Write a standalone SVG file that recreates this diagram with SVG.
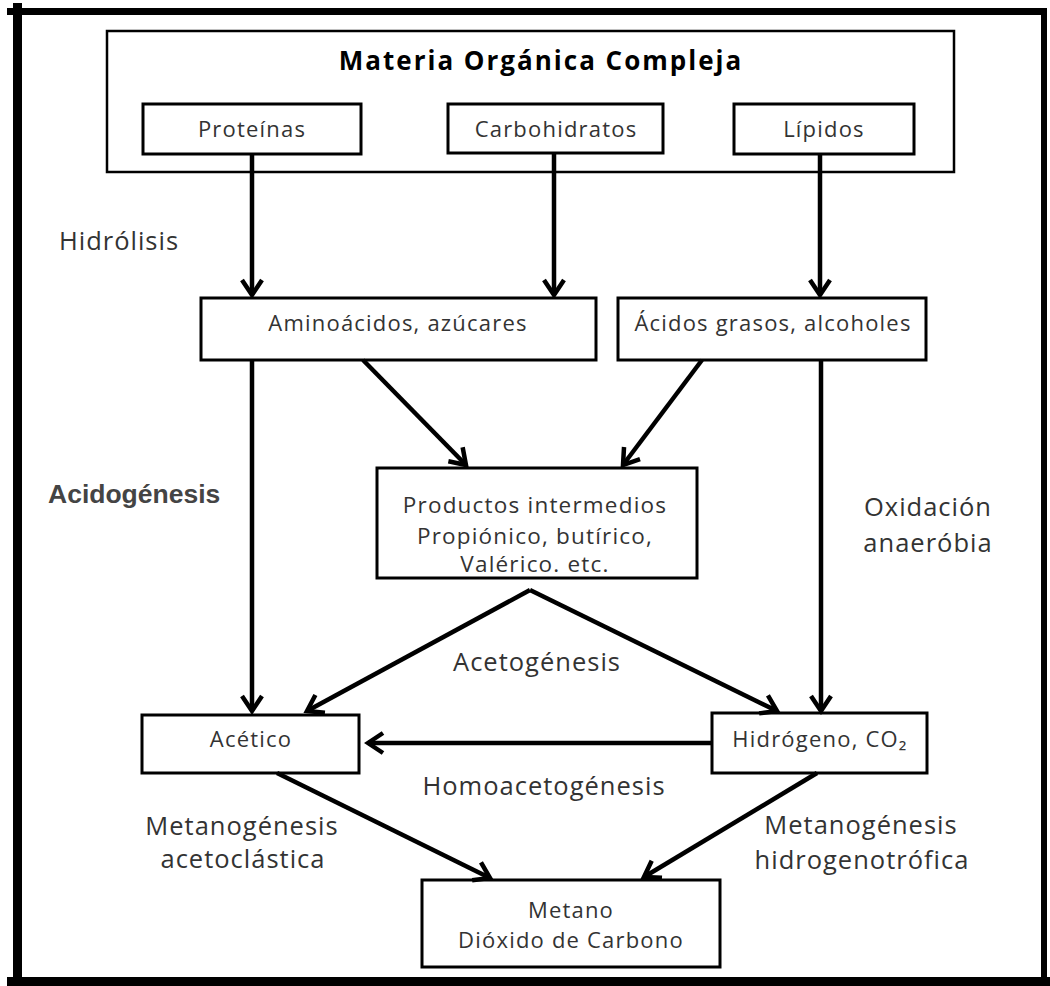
<svg xmlns="http://www.w3.org/2000/svg" width="1050" height="986" viewBox="0 0 1050 986">
<style>
.box{fill:#fff;stroke:#000;stroke-width:3}
.t{font-family:"Open Sans","Liberation Sans",sans-serif;font-size:22px;letter-spacing:1.2px;fill:#333;text-anchor:middle}
.lbl{font-family:"Open Sans","Liberation Sans",sans-serif;font-size:25.5px;letter-spacing:1px;fill:#333;text-anchor:middle}
.ttl{font-family:"Open Sans","Liberation Sans",sans-serif;font-size:26px;font-weight:bold;letter-spacing:2px;fill:#000;text-anchor:middle}
.acid{font-family:"Liberation Sans",Arial,sans-serif;font-size:26.5px;font-weight:bold;fill:#444}
.c{fill:none;stroke:#000;stroke-width:4.5;marker-end:url(#ah)}
</style>
<defs>
<marker id="ah" markerUnits="userSpaceOnUse" viewBox="-22 -14 26 28" markerWidth="26" markerHeight="28" refX="0" refY="0" orient="auto">
<path d="M-15,-10 L0,0 L-15,10" fill="none" stroke="#000" stroke-width="4.5" stroke-linejoin="miter"/>
</marker>
</defs>
<rect width="1050" height="986" fill="#fff"/>
<g id="frame" fill="#000">
<rect x="7" y="8" width="1040" height="7"/>
<rect x="13" y="3" width="9" height="983"/>
<rect x="1041" y="8" width="6" height="972"/>
<rect x="7" y="977" width="1043" height="9"/>
</g>
<g id="materia">
<rect x="107" y="31" width="847" height="141" fill="#fff" stroke="#000" stroke-width="2.5"/>
<text class="ttl" x="541" y="70">Materia Orgánica Compleja</text>
</g>
<g id="proteinas"><rect class="box" x="143" y="104" width="218" height="50"/><text class="t" x="252" y="137">Proteínas</text></g>
<g id="carbohidratos"><rect class="box" x="448" y="104" width="215" height="49"/><text class="t" x="556" y="137">Carbohidratos</text></g>
<g id="lipidos"><rect class="box" x="734" y="104" width="180" height="50"/><text class="t" x="824" y="137">Lípidos</text></g>
<g id="aminoacidos"><rect class="box" x="201" y="298" width="395" height="62"/><text class="t" x="398" y="331">Aminoácidos, azúcares</text></g>
<g id="acidos"><rect class="box" x="618" y="298" width="308" height="62"/><text class="t" x="773" y="331">Ácidos grasos, alcoholes</text></g>
<g id="productos"><rect class="box" x="377" y="468" width="320" height="110"/>
<text class="t" x="535" y="513" style="font-size:22.5px">Productos intermedios</text>
<text class="t" x="535" y="544" style="font-size:22.5px">Propiónico, butírico,</text>
<text class="t" x="535" y="572" style="font-size:22.5px">Valérico. etc.</text></g>
<g id="acetico"><rect class="box" x="142" y="715" width="217" height="58"/><text class="t" x="251" y="747">Acético</text></g>
<g id="hidrogeno"><rect class="box" x="712" y="713" width="215" height="60"/><text class="t" x="820" y="747">Hidrógeno, CO₂</text></g>
<g id="metano"><rect class="box" x="422" y="880" width="298" height="87"/>
<text class="t" x="571" y="918">Metano</text>
<text class="t" x="571" y="948">Dióxido de Carbono</text></g>
<g id="labels">
<text class="lbl" x="119" y="250">Hidrólisis</text>
<text class="acid" x="48" y="503">Acidogénesis</text>
<text class="lbl" x="928" y="516">Oxidación</text>
<text class="lbl" x="928" y="552">anaeróbia</text>
<text class="lbl" x="537" y="671">Acetogénesis</text>
<text class="lbl" x="544" y="795">Homoacetogénesis</text>
<text class="lbl" x="242" y="835">Metanogénesis</text>
<text class="lbl" x="243" y="868">acetoclástica</text>
<text class="lbl" x="861" y="834">Metanogénesis</text>
<text class="lbl" x="862" y="869">hidrogenotrófica</text>
</g>
<g id="connectors">
<path class="c" d="M252,154 L252,295"/>
<path class="c" d="M554,153 L554,295"/>
<path class="c" d="M820,154 L820,295"/>
<path class="c" d="M363,360 L466,465"/>
<path class="c" d="M702,360 L623,465"/>
<path class="c" d="M252,360 L252,711"/>
<path class="c" d="M821,360 L821,711"/>
<path class="c" d="M530,590 L307,711"/>
<path class="c" d="M530,590 L777,711"/>
<path class="c" d="M712,743 L368,743"/>
<path class="c" d="M277,773 L490,878"/>
<path class="c" d="M817,773 L644,877"/>
</g>
</svg>
